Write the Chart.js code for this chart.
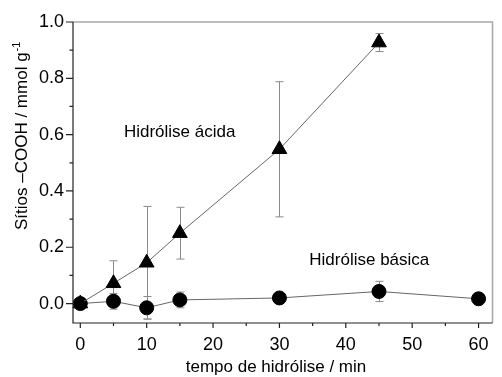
<!DOCTYPE html>
<html>
<head>
<meta charset="utf-8">
<script src="https://cdn.jsdelivr.net/npm/chart.js@4/dist/chart.umd.min.js"></script>
<style>
  html, body { margin: 0; padding: 0; background: #fff; }
  #wrap { width: 502px; height: 377px; }
</style>
</head>
<body>
<div id="wrap"><canvas id="grafico" width="502" height="377"></canvas></div>
<script>
// dados
const tempoAcida = [0, 5, 10, 15, 30, 45];
const acida = [0.0, 0.072, 0.145, 0.25, 0.548, 0.927];
const acidaErro = [0, 0.08, 0.2, 0.092, 0.24, 0.032];

const tempoBasica = [0, 5, 10, 15, 30, 45, 60];
const basica = [0.0, 0.008, -0.015, 0.013, 0.02, 0.043, 0.017];
const basicaErro = [0, 0.028, 0.04, 0.028, 0, 0.036, 0];

const xTicks = [0, 10, 20, 30, 40, 50, 60];
const xMinor = [5, 15, 25, 35, 45, 55];
const yTicks = [0.0, 0.2, 0.4, 0.6, 0.8, 1.0];
const yMinor = [0.1, 0.3, 0.5, 0.7, 0.9];

const rotulos = [
    { texto: 'Hidrólise ácida', x: 6.57, y: 0.593 },
    { texto: 'Hidrólise básica', x: 34.5, y: 0.138 }
];

const fonte = '"Liberation Sans", Arial, Helvetica, sans-serif';

function pontos(xs, ys) {
    return xs.map((x, i) => ({ x: x, y: ys[i] }));
}

// barras de erro, marcas dos eixos, textos
const extras = {
    id: 'extras',
    beforeDatasetsDraw(chart) {
        const ctx = chart.ctx;
        const xs = chart.scales.x, ys = chart.scales.y;
        ctx.save();
        ctx.strokeStyle = '#8a8a8a';
        ctx.lineWidth = 1;
        chart.data.datasets.forEach(ds => {
            ds.data.forEach((p, i) => {
                const e = ds.erro[i];
                if (!e) return;
                const px = Math.round(xs.getPixelForValue(p.x)) + 0.5;
                const top = ys.getPixelForValue(p.y + e);
                const bot = ys.getPixelForValue(p.y - e);
                ctx.beginPath();
                ctx.moveTo(px, top); ctx.lineTo(px, bot);
                ctx.moveTo(px - 4, top); ctx.lineTo(px + 4, top);
                ctx.moveTo(px - 4, bot); ctx.lineTo(px + 4, bot);
                ctx.stroke();
            });
        });
        ctx.restore();
    },
    afterDraw(chart) {
        const ctx = chart.ctx;
        const a = chart.chartArea;
        const xs = chart.scales.x, ys = chart.scales.y;
        ctx.save();

        // moldura cinza em cima e à direita
        ctx.strokeStyle = '#a8a8a8';
        ctx.lineWidth = 1.5;
        ctx.beginPath();
        ctx.moveTo(a.left, a.top); ctx.lineTo(a.right, a.top); ctx.lineTo(a.right, a.bottom);
        ctx.stroke();

        // eixos esquerdo e inferior
        ctx.strokeStyle = '#222';
        ctx.lineWidth = 1.2;
        ctx.beginPath();
        ctx.moveTo(a.left, a.top); ctx.lineTo(a.left, a.bottom); ctx.lineTo(a.right, a.bottom);
        yTicks.forEach(v => {
            const py = ys.getPixelForValue(v);
            ctx.moveTo(a.left - 7, py); ctx.lineTo(a.left, py);
        });
        yMinor.forEach(v => {
            const py = ys.getPixelForValue(v);
            ctx.moveTo(a.left - 3.5, py); ctx.lineTo(a.left, py);
        });
        xTicks.forEach(v => {
            const px = xs.getPixelForValue(v);
            ctx.moveTo(px, a.bottom); ctx.lineTo(px, a.bottom + 5);
        });
        xMinor.forEach(v => {
            const px = xs.getPixelForValue(v);
            ctx.moveTo(px, a.bottom); ctx.lineTo(px, a.bottom + 3);
        });
        ctx.stroke();

        // textos dentro do gráfico
        ctx.fillStyle = '#000';
        ctx.font = '17px ' + fonte;
        ctx.textBaseline = 'alphabetic';
        ctx.textAlign = 'left';
        rotulos.forEach(r => {
            ctx.fillText(r.texto, xs.getPixelForValue(r.x), ys.getPixelForValue(r.y));
        });

        // título do eixo x
        ctx.textAlign = 'center';
        ctx.fillText('tempo de hidrólise / min', 276, 372);

        // título do eixo y (com expoente)
        ctx.translate(26.5, 230);
        ctx.rotate(-Math.PI / 2);
        ctx.textAlign = 'left';
        const base = 'Sítios –COOH / mmol g';
        ctx.fillText(base, 0, 0);
        const w = ctx.measureText(base).width;
        ctx.font = '11px ' + fonte;
        ctx.fillText('-1', w + 1, -7);

        ctx.restore();
    }
};

const ctx = document.getElementById('grafico').getContext('2d');
const grafico = new Chart(ctx, {
    type: 'scatter',
    data: {
        datasets: [
            {
                label: 'Hidrólise ácida',
                data: pontos(tempoAcida, acida),
                erro: acidaErro,
                showLine: true,
                borderColor: '#666',
                borderWidth: 1,
                backgroundColor: '#000',
                pointBackgroundColor: '#000',
                pointBorderColor: '#000',
                pointStyle: 'triangle',
                pointRadius: 8.5,
                pointBorderWidth: 1
            },
            {
                label: 'Hidrólise básica',
                data: pontos(tempoBasica, basica),
                erro: basicaErro,
                showLine: true,
                borderColor: '#666',
                borderWidth: 1,
                backgroundColor: '#000',
                pointBackgroundColor: '#000',
                pointBorderColor: '#000',
                pointStyle: 'circle',
                pointRadius: 7,
                pointBorderWidth: 1
            }
        ]
    },
    options: {
        responsive: false,
        animation: false,
        clip: false,
        layout: { padding: { top: 22, right: 1, bottom: 0, left: 0 } },
        plugins: {
            legend: { display: false },
            tooltip: { enabled: false }
        },
        scales: {
            x: {
                type: 'linear',
                min: -1.1,
                max: 62.1,
                afterFit(scale) { scale.height = 54; },
                afterBuildTicks(scale) { scale.ticks = xTicks.map(v => ({ value: v })); },
                grid: { display: false },
                border: { display: false },
                ticks: {
                    padding: 3,
                    color: '#000',
                    font: { family: fonte, size: 18 },
                    maxRotation: 0,
                    callback: v => String(v)
                }
            },
            y: {
                type: 'linear',
                min: -0.069,
                max: 1.0,
                afterFit(scale) { scale.width = 73; },
                afterBuildTicks(scale) { scale.ticks = yTicks.map(v => ({ value: v })); },
                grid: { display: false },
                border: { display: false },
                ticks: {
                    padding: 1,
                    color: '#000',
                    font: { family: fonte, size: 18 },
                    callback: v => Number(v).toFixed(1)
                }
            }
        }
    },
    plugins: [extras]
});
</script>
</body>
</html>
